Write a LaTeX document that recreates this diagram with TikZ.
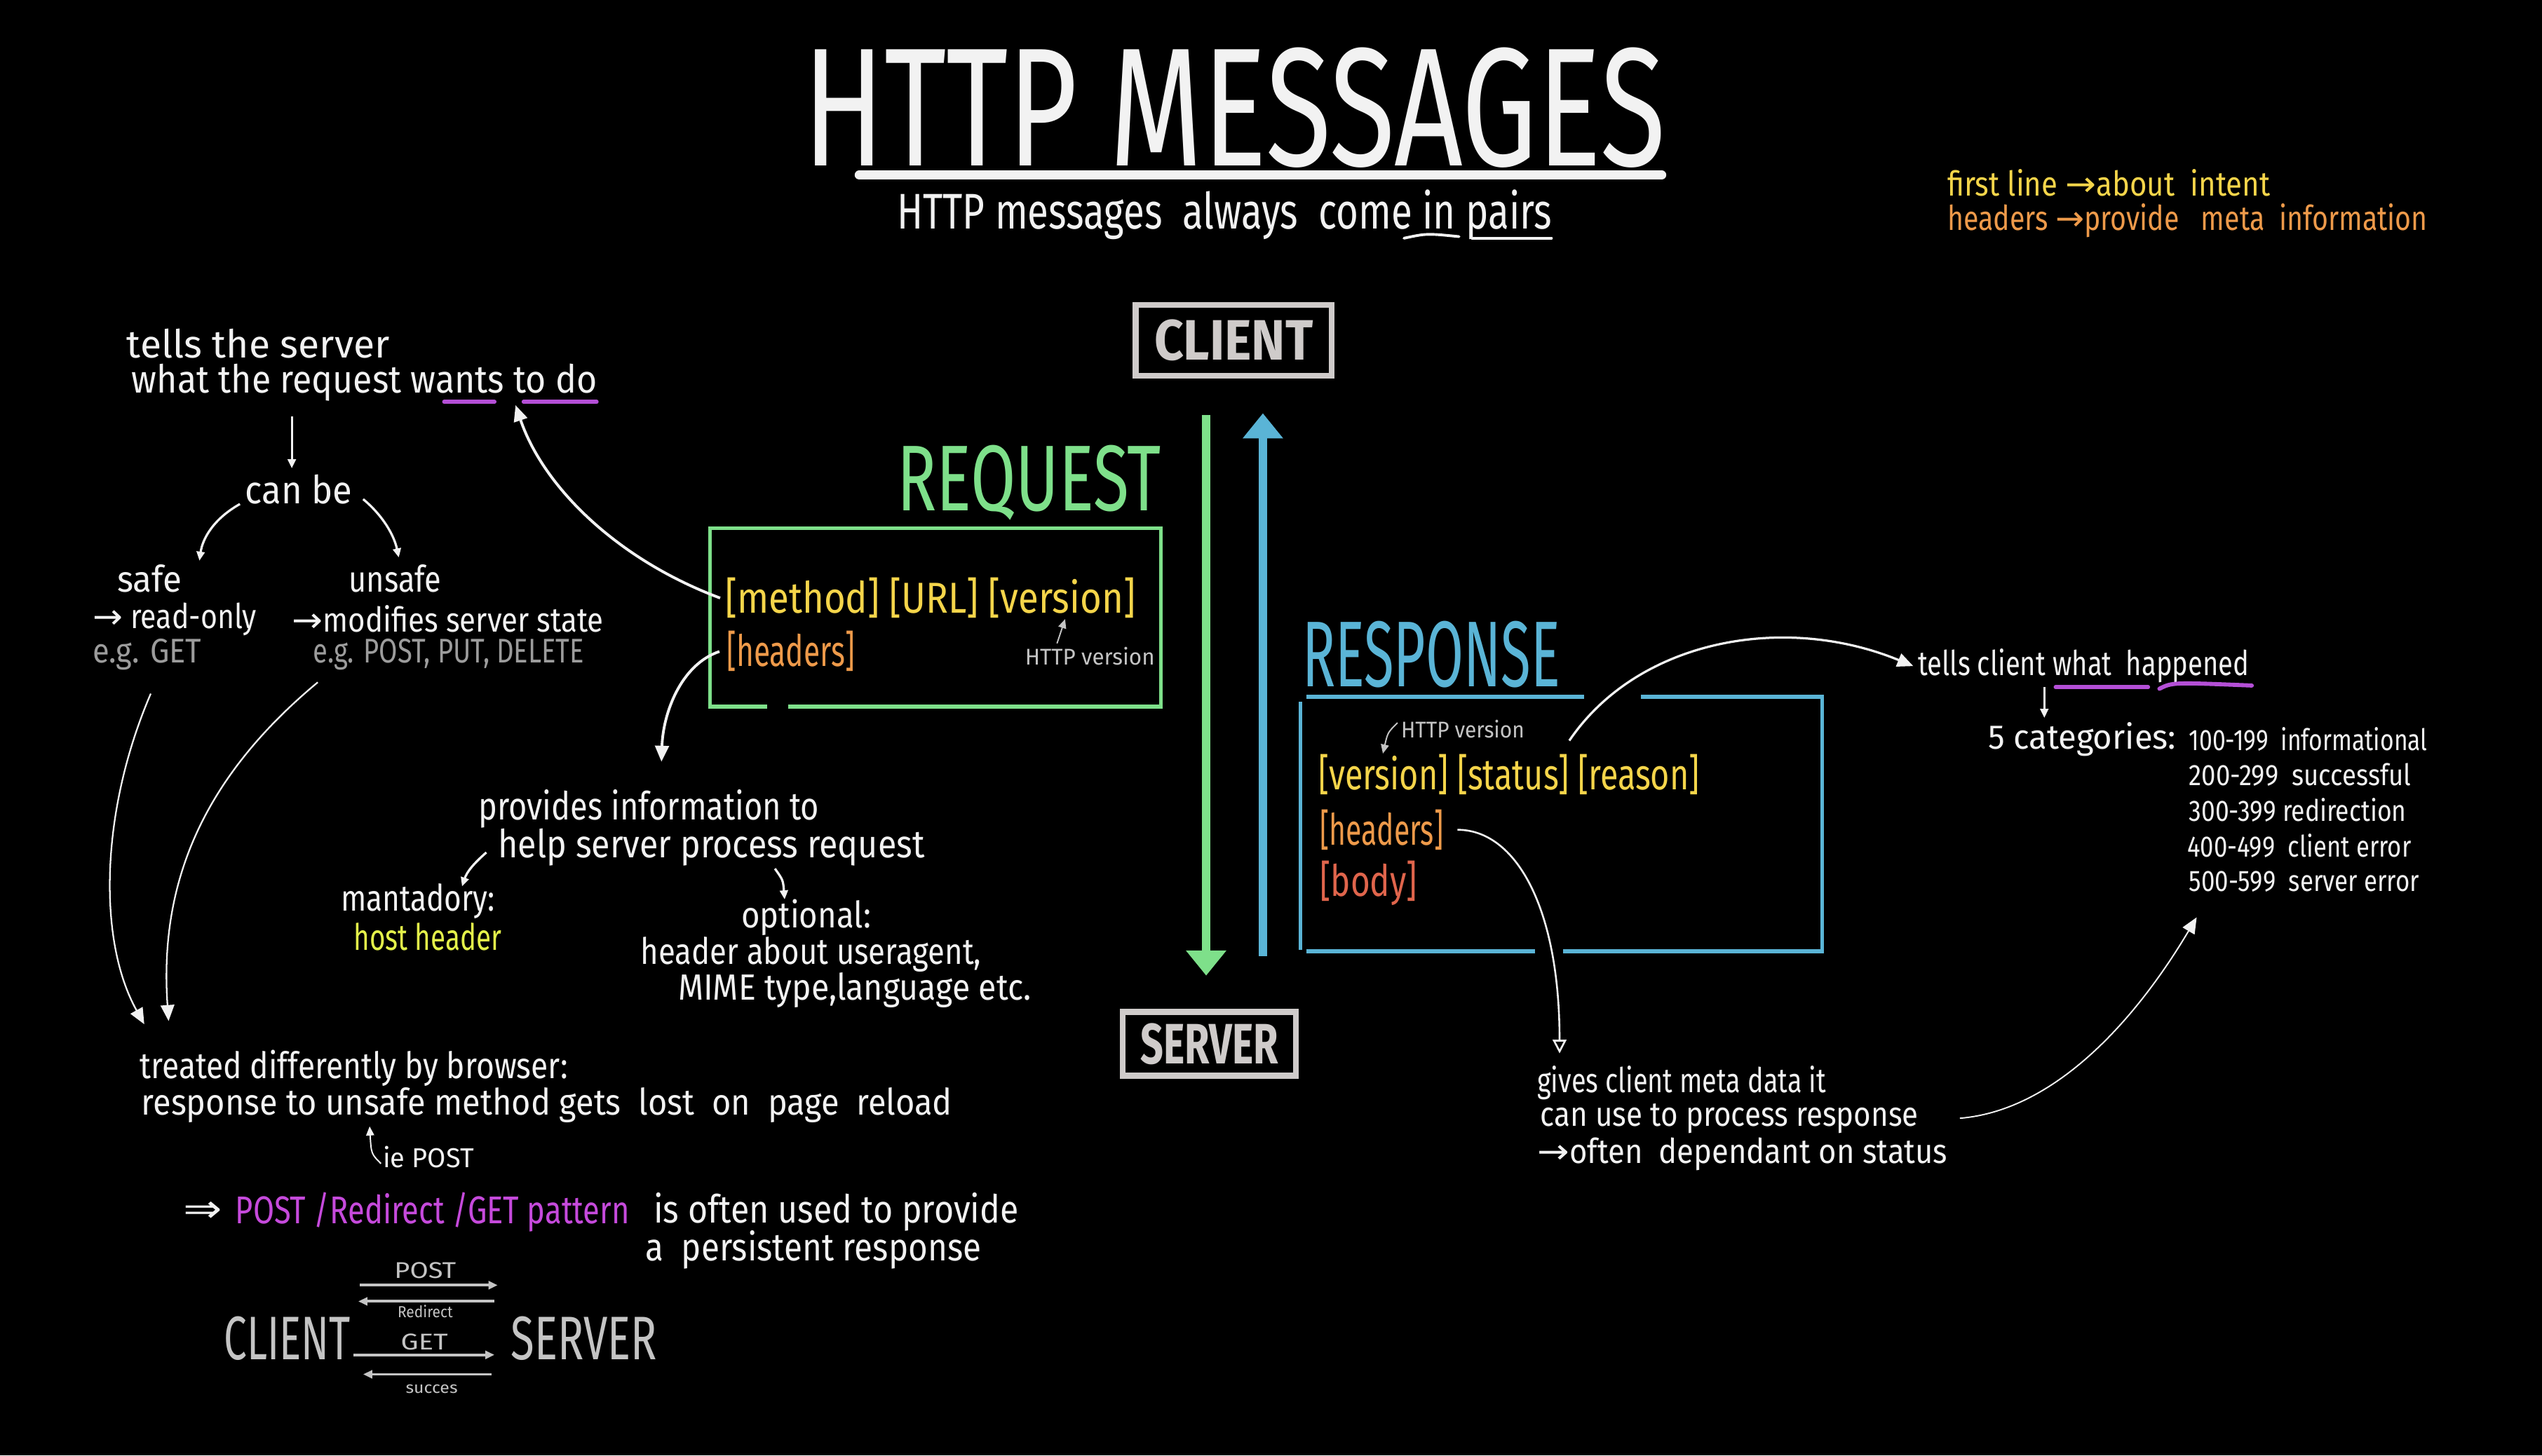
\documentclass[tikz,border=0pt]{standalone}
\usepackage{fontspec}
\setmainfont{Fira Sans}[FakeStretch=0.8]
\newfontfamily\titlefont{Fira Sans}[FakeStretch=0.65]
\newfontfamily\symfont{DejaVu Sans}
\usetikzlibrary{arrows.meta}
\definecolor{wh}{HTML}{F2F2F2}
\definecolor{boxgray}{HTML}{CFCBCA}
\definecolor{txgray}{HTML}{9C9C9C}
\definecolor{lgray}{HTML}{C4C4C4}
\definecolor{grn}{HTML}{7EE08A}
\definecolor{blu}{HTML}{5AB4D6}
\definecolor{yel}{HTML}{F5D54A}
\definecolor{ora}{HTML}{EE9A4A}
\definecolor{redb}{HTML}{E0654C}
\definecolor{pur}{HTML}{B44FD6}
\definecolor{mag}{HTML}{C64ADC}
\definecolor{lime}{HTML}{E4F24A}
\newsavebox\fitbox
\newlength\fitlen
\newcommand\fitx[2]{\sbox\fitbox{#2}\setlength\fitlen{\wd\fitbox}\pgfmathsetmacro\fitr{#1*0.71132/\fitlen}\scalebox{\fitr}[1]{\usebox\fitbox}}
\newcommand\fs[1]{\fontsize{#1}{#1}\selectfont}
\newcommand\ra{{\symfont →}}
\tikzset{
  txt/.style={anchor=west, inner sep=0pt, text=wh},
  wline/.style={draw=wh, line width=1pt},
  wtip/.style={-{Triangle[length=7pt,width=6pt]}},
  otip/.style={-{Triangle[open,length=6pt,width=6pt]}},
  stip/.style={-{Triangle[length=4pt,width=3.5pt]}},
  under/.style={draw=pur, line width=1.8pt, line cap=round},
  bigbox/.style={draw=boxgray, line width=2.6pt, inner sep=0pt, text=boxgray, font=\bfseries\fs{25}},
}
\begin{document}
\begin{tikzpicture}[x=0.025cm,y=-0.025cm]
\fill[black] (0,0) rectangle (1568,898);
\useasboundingbox (0,0) rectangle (1568,898);

% ---------- title ----------
\node[txt, text depth=0pt, font=\titlefont\fs{74}] (title) at (495,66) {\fitx{532}{HTTP MESSAGES}};
\draw[wh, line width=4pt, line cap=round] (530,108) -- (1025,108);
\node[txt, text depth=0pt, font=\fs{22}] (sub) at (553,129) {\fitx{404}{HTTP messages\ \ always\ \ come\ in\ pairs}};
\draw[wh, line width=1.2pt, line cap=round] (866,147) .. controls (880,144) .. (900,146);
\draw[wh, line width=1.2pt, line cap=round] (908,147) -- (957,147);

% ---------- top right ----------
\node[txt, text=yel, font=\fs{15}] (fl) at (1201,113) {\fitx{199}{first line \ra about\ \ intent}};
\node[txt, text=ora, font=\fs{15}] (hl) at (1201,136) {\fitx{296}{headers \ra provide\ \ \ meta\ \ information}};

% ---------- client / server ----------
\node[bigbox, minimum width=86pt, minimum height=31pt] (client) at (761,210) {\fitx{98}{CLIENT}};
\node[bigbox, minimum width=76pt, minimum height=28pt] (server) at (746,644) {\fitx{85}{SERVER}};
\coordinate (gA) at (744,256);
\coordinate (gB) at (744,602);
\coordinate (bA) at (779,590);
\coordinate (bB) at (779,255);
\draw[grn, line width=3.5pt, -{Triangle[length=11pt,width=17pt]}] (gA) -- (gB);
\draw[blu, line width=3.5pt, -{Triangle[length=11pt,width=17pt]}] (bA) -- (bB);

% ---------- request ----------
\node[txt, text=grn, font=\titlefont\fs{41}] (reqlabel) at (553,298) {\fitx{163}{REQUEST}};
\draw[grn, line width=1.6pt] (473,436) -- (438,436) -- (438,326) -- (716,326) -- (716,436) -- (486,436);
\node[txt, text=yel, font=\fs{19}] (reqline) at (447,369) {\fitx{253}{[method] [URL] [version]}};
\node[txt, text=ora, font=\fs{19}] (reqhead) at (448,402) {\fitx{79}{[headers]}};
\node[txt, text=lgray, font=\fs{10}] (reqhv) at (632,405) {\fitx{80}{HTTP version}};
\draw[lgray, line width=0.6pt, stip] (652,397) -- (657,382);

% ---------- response ----------
\node[txt, text=blu, font=\titlefont\fs{41}] (reslabel) at (803,404) {\fitx{159}{RESPONSE}};
\draw[blu, line width=1.6pt] (977,430) -- (806,430);
\draw[blu, line width=1.6pt] (1012,430) -- (1124,430) -- (1124,587) -- (964,587);
\draw[blu, line width=1.6pt] (947,587) -- (806,587);
\draw[blu, line width=1.6pt] (802,433) -- (802,586);
\node[txt, text=lgray, font=\fs{10}] (reshv) at (864,450) {\fitx{76}{HTTP version}};
\draw[lgray, line width=0.6pt, stip] (862,446) .. controls (856,452) .. (853,465);
\node[txt, text=yel, font=\fs{19}] (resline) at (813,478) {\fitx{235}{[version] [status] [reason]}};
\node[txt, text=ora, font=\fs{19}] (reshead) at (814,512) {\fitx{76}{[headers]}};
\node[txt, text=redb, font=\fs{19}] (resbody) at (814,545) {\fitx{60}{[body]}};

% status -> tells client
\node[txt, font=\fs{15}] (tellc) at (1183,411) {\fitx{204}{tells client\ what\ \ happened}};
\coordinate (stat) at (968,457);
\draw[wline, wtip] (stat) .. controls (1010,395) and (1100,378) .. ([xshift=-2pt]tellc.west);
\draw[under] (1268,424) -- (1325,424);
\draw[under] (1332,425) .. controls (1340,421) .. (1389,423);
\draw[wline, stip] (1261,424) -- (1261,443);
\node[txt, font=\fs{15}] (cat) at (1226,456) {\fitx{116}{5 categories:}};
\node[txt, font=\fs{13}] (c1) at (1350,456) {\fitx{147}{100-199\ \ informational}};
\node[txt, font=\fs{13}] (c2) at (1350,478) {\fitx{137}{200-299\ \ successful}};
\node[txt, font=\fs{13}] (c3) at (1350,500) {\fitx{134}{300-399 redirection}};
\node[txt, font=\fs{13}] (c4) at (1349,522) {\fitx{138}{400-499\ \ client error}};
\node[txt, font=\fs{13}] (c5) at (1350,544) {\fitx{142}{500-599\ \ server error}};

% response headers -> gives client
\node[txt, font=\fs{15}] (g1) at (948,668) {\fitx{178}{gives client meta data it}};
\node[txt, font=\fs{15}] (g2) at (950,690) {\fitx{233}{can use to process response}};
\node[txt, font=\fs{15}] (g3) at (948,712) {\fitx{253}{\ra often\ \ dependant on status}};
\draw[wline, line width=0.8pt, otip] ([xshift=6pt]reshead.east) .. controls (935,512) and (962,560) .. (962,650);
\draw[wline, line width=0.6pt, wtip] ([xshift=18pt]g2.east) .. controls (1270,685) and (1320,625) .. (1355,566);

% ---------- left: method ----------
\node[txt, font=\fs{17}] (t1) at (78,212) {\fitx{162}{tells\ the\ server}};
\node[txt, font=\fs{17}] (t2) at (81,236) {\fitx{287}{what\ the\ request\ wants to do}};
\draw[under] (274,248) -- (305,248);
\draw[under] (323,248) -- (368,248);
\coordinate (wantsc) at (318,250);
\draw[wline, line width=1.2pt, wtip] ([xshift=-2pt]reqline.west) .. controls (380,345) and (335,300) .. (wantsc);
\draw[wline, stip] (180,257) -- (180,289);
\node[txt, font=\fs{17}] (canbe) at (151,302) {\fitx{66}{can be}};
\draw[wline, stip] (148,311) .. controls (132,320) and (125,332) .. (123,346);
\draw[wline, stip] (224,308) .. controls (236,318) and (243,330) .. (246,344);
\node[txt, text depth=0pt, font=\fs{16}] (safe) at (72,357) {\fitx{40}{safe}};
\node[txt, text depth=0pt, font=\fs{16}] (unsafe) at (215,357) {\fitx{57}{unsafe}};
\node[txt, font=\fs{15}] (ro) at (57,382) {\fitx{101}{\ra\ read-only}};
\node[txt, font=\fs{15}] (mod) at (180,382) {\fitx{192}{\ra modifies server state}};
\node[txt, text=txgray, font=\fs{15}] (egget) at (57,404) {\fitx{67}{e.g. GET}};
\node[txt, text=txgray, font=\fs{15}] (egpost) at (193,404) {\fitx{167}{e.g. POST, PUT, DELETE}};

\node[txt, font=\fs{16}] (tr1) at (86,659) {\fitx{264}{treated\ differently by browser:}};
\node[txt, font=\fs{16}] (tr2) at (87,682) {\fitx{500}{response to unsafe\ method gets\ \ lost\ \ on\ \ page\ \ reload}};
\draw[wline, line width=0.7pt, wtip] (93,428) .. controls (62,500) and (60,580) .. (89,632);
\draw[wline, line width=0.7pt, wtip] (196,421) .. controls (125,480) and (98,545) .. (104,630);

\node[txt, font=\fs{12}] (iepost) at (236,714) {\fitx{56}{ie POST}};
\draw[wline, line width=0.6pt, stip] (235,718) .. controls (229,712) .. (228,695);

\node[txt, font=\fs{17}] (dbl) at (113,748) {\fitx{24}{\symfont ⇒}};
\node[txt, text=mag, font=\fs{17}] (prg) at (145,748) {\fitx{243}{POST /Redirect /GET pattern}};
\node[txt, font=\fs{17}] (often) at (403,748) {\fitx{225}{is often used to provide}};
\node[txt, font=\fs{17}] (pers) at (398,771) {\fitx{207}{a\ \ persistent response}};

% bottom mini diagram
\node[txt, text=lgray, font=\fs{27}] (mc) at (138,826) {\fitx{78}{CLIENT}};
\node[txt, text=lgray, font=\fs{27}] (ms) at (315,826) {\fitx{90}{SERVER}};
\node[txt, text=lgray, font=\fs{10}] (lpost) at (243,784) {\fitx{38}{POST}};
\node[txt, text=lgray, font=\fs{7}] (lred) at (245,809) {\fitx{34}{Redirect}};
\node[txt, text=lgray, font=\fs{10}] (lget) at (247,828) {\fitx{29}{GET}};
\node[txt, text=lgray, font=\fs{7}] (lsuc) at (250,857) {\fitx{32}{succes}};
\draw[lgray, line width=1.2pt, stip] (222,793) -- (307,793);
\draw[lgray, line width=1.2pt, stip] (305,803) -- (221,803);
\draw[lgray, line width=1.2pt, stip] (218,836) -- (305,836);
\draw[lgray, line width=1.2pt, stip] (303,848) -- (224,848);

% ---------- left: headers ----------
\coordinate (hdarrow) at (408,470);
\draw[wline, line width=1.2pt, wtip] ([xshift=-3pt]reqhead.west) .. controls (420,410) and (409,440) .. (hdarrow);
\node[txt, font=\fs{17}] (pi1) at (295,499) {\fitx{210}{provides\ information to}};
\node[txt, font=\fs{17}] (pi2) at (307,523) {\fitx{263}{help server\ process request}};
\draw[wline, stip] (300,526) .. controls (292,533) and (288,538) .. (285,547);
\node[txt, font=\fs{16}] (mand) at (210,556) {\fitx{95}{mantadory:}};
\node[txt, text=lime, font=\fs{16}] (host) at (218,578) {\fitx{91}{host header}};
\draw[wline, stip] (478,536) .. controls (483,543) .. (484,555);
\node[txt, font=\fs{16}] (opt) at (457,566) {\fitx{80}{optional:}};
\node[txt, font=\fs{16}] (op2) at (395,589) {\fitx{210}{header about useragent,}};
\node[txt, font=\fs{16}] (op3) at (418,611) {\fitx{218}{MIME type,language etc.}};
\end{tikzpicture}
\end{document}
